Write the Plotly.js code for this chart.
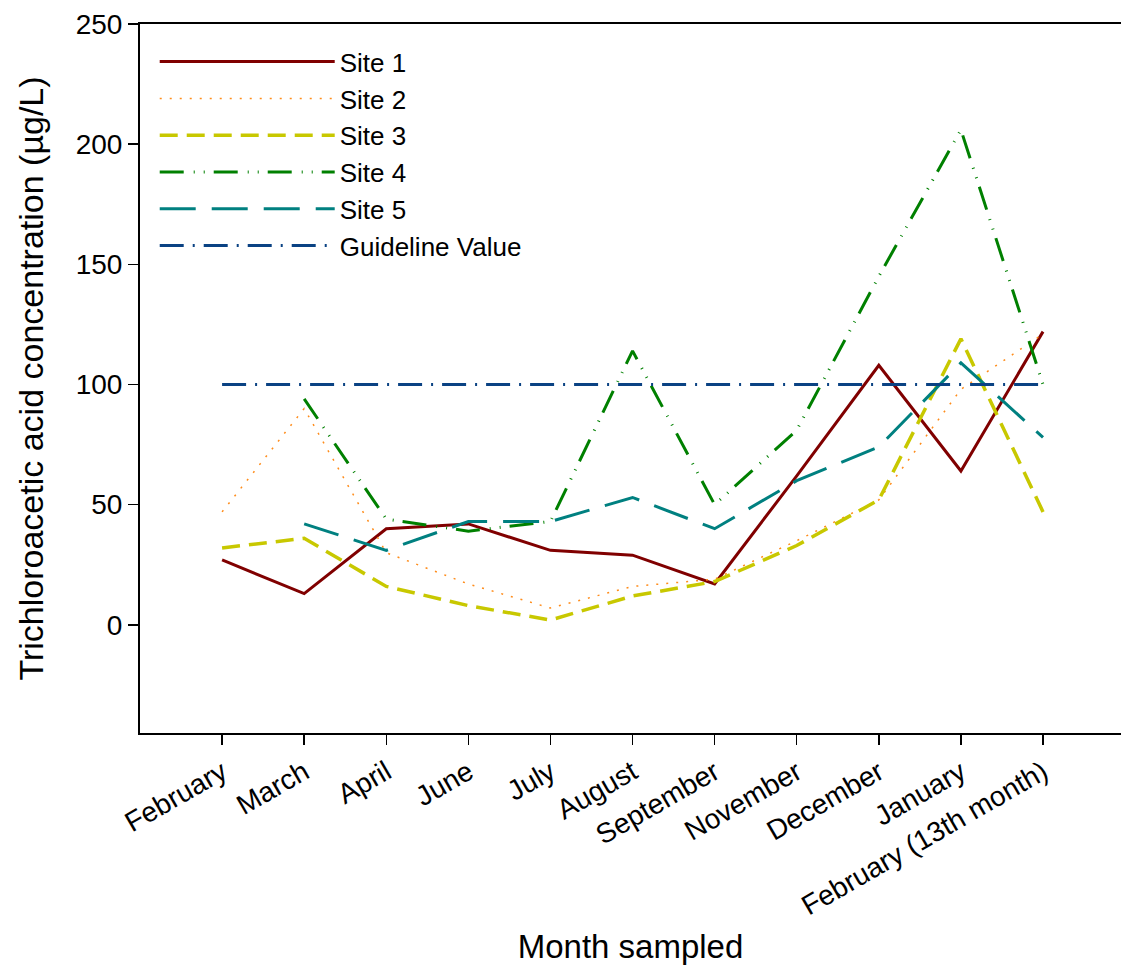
<!DOCTYPE html>
<html>
<head>
<meta charset="utf-8">
<script src="https://cdn.plot.ly/plotly-3.0.1.min.js"></script>
<style>html,body{margin:0;padding:0;background:#fff;}#chart{width:1121px;height:965px;}</style>
</head>
<body>
<div id="chart"></div>
<script>
// Categories (month sampled)
const months = ["February", "March", "April", "June", "July", "August", "September", "November", "December", "January", "February (13th month)"];

// Trichloroacetic acid concentration (µg/L) per site
const site1 = [27, 13, 40, 42, 31, 29, 17, 62, 108, 64, 122];
const site2 = [47, 90, 30, 17, 7, 16, 19, 35, 52, 98, 121];
const site3 = [32, 36, 16, 8, 2, 12, 18, 33, 52, 119, 47];
const site4 = [null, 94, 44, 39, 43, 114, 50, 81, 145, 206, 100];
const site5 = [null, 42, 31, 43, 43, 53, 40, 60, 74, 109, 78];
const guideline = [100, 100, 100, 100, 100, 100, 100, 100, 100, 100, 100];

const seriesNames = ["Site 1", "Site 2", "Site 3", "Site 4", "Site 5", "Guideline Value"];

const FONT = "Liberation Sans, Arial, sans-serif";

function tr(name, y, color, width, dash) {
  return {
    type: "scatter", mode: "lines", name: name,
    x: months, y: y, connectgaps: false,
    line: {color: color, width: width, dash: dash},
    hoverinfo: "x+y+name"
  };
}

const data = [
  tr(seriesNames[0], site1, "#800000", 3, "solid"),
  tr(seriesNames[1], site2, "#FF8C1A", 1.5, "2px,8px"),
  tr(seriesNames[2], site3, "#C8C800", 3.5, "18px,9px"),
  tr(seriesNames[3], site4, "#008000", 3, "24px,10px,1px,9px,1px,9px"),
  tr(seriesNames[4], site5, "#008080", 3, "36px,16px"),
  tr(seriesNames[5], guideline, "#0A4283", 3, "24px,9px,2px,9px")
];

const layout = {
  width: 1121, height: 965,
  margin: {l: 140, r: 0, t: 24, b: 232},
  paper_bgcolor: "#fff", plot_bgcolor: "#fff",
  font: {family: FONT, color: "#000", size: 28},
  showlegend: true,
  legend: {
    x: 0.015, y: 0.98, xanchor: "left", yanchor: "top",
    bgcolor: "rgba(0,0,0,0)", borderwidth: 0,
    font: {family: FONT, size: 26, color: "#000"},
    itemwidth: 175, tracegroupgap: 0
  },
  xaxis: {
    type: "category", categoryorder: "array", categoryarray: months,
    range: [-1, 10.95],
    showgrid: false, zeroline: false,
    showline: true, linecolor: "#000", linewidth: 2, mirror: true,
    ticks: "outside", ticklen: 10, tickwidth: 1.5, tickcolor: "#000",
    tickangle: -30,
    tickfont: {family: FONT, size: 28, color: "#000"},
    title: {text: "Month sampled", font: {family: FONT, size: 33, color: "#000"}, standoff: 18},
    automargin: false
  },
  yaxis: {
    range: [-45, 250],
    tickvals: [0, 50, 100, 150, 200, 250],
    showgrid: false, zeroline: false,
    showline: true, linecolor: "#000", linewidth: 2, mirror: false,
    ticks: "outside", ticklen: 10, tickwidth: 1.5, tickcolor: "#000",
    tickfont: {family: FONT, size: 28, color: "#000"},
    title: {text: "Trichloroacetic acid concentration (µg/L)", font: {family: FONT, size: 34, color: "#000"}, standoff: 22},
    automargin: false
  }
};

Plotly.newPlot("chart", data, layout, {staticPlot: true, displayModeBar: false});
</script>
</body>
</html>
